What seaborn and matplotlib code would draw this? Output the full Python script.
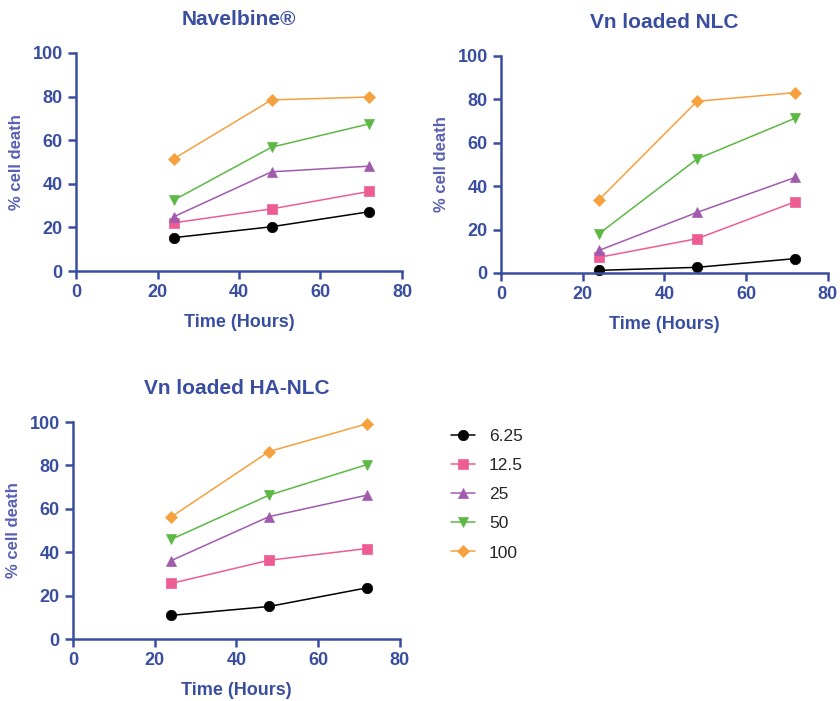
import matplotlib
matplotlib.use("Agg")
import matplotlib.pyplot as plt
import seaborn as sns
import pandas as pd

sns.set_theme(style="ticks")
plt.rcParams['font.family'] = ['Liberation Sans', 'DejaVu Sans']

hours = [24, 48, 72]
concentrations = ["6.25", "12.5", "25", "50", "100"]

navelbine = {
    "6.25": [15.3, 20.3, 27.2],
    "12.5": [22.1, 28.5, 36.5],
    "25":   [24.9, 45.5, 48.1],
    "50":   [32.5, 56.8, 67.5],
    "100":  [51.5, 78.5, 79.8],
}
vn_nlc = {
    "6.25": [1.2, 2.6, 6.6],
    "12.5": [7.2, 15.8, 32.8],
    "25":   [10.4, 27.9, 44.0],
    "50":   [18.1, 52.5, 71.3],
    "100":  [33.7, 79.1, 83.1],
}
vn_ha_nlc = {
    "6.25": [10.9, 15.0, 23.6],
    "12.5": [25.6, 36.3, 41.7],
    "25":   [36.1, 56.4, 66.3],
    "50":   [45.9, 66.3, 80.4],
    "100":  [56.2, 86.4, 99.2],
}
titles = ["Navelbine®", "Vn loaded NLC", "Vn loaded HA-NLC"]
datasets = [navelbine, vn_nlc, vn_ha_nlc]

colors = {"6.25": "#000000", "12.5": "#EE5C94", "25": "#A05BAE",
          "50": "#5DB845", "100": "#F7A03E"}
markers = {"6.25": "o", "12.5": "s", "25": "^", "50": "v", "100": "D"}
msizes = {"6.25": 7.5, "12.5": 7.5, "25": 7.5, "50": 7.5, "100": 6}

AX = "#3A4EA0"
LAB = "#5A60B2"

fig = plt.figure(figsize=(8.4, 7.01), dpi=100)
rects = [
    [0.0905, 0.6134, 0.388, 0.311],
    [0.5964, 0.6106, 0.389, 0.3096],
    [0.0869, 0.0884, 0.389, 0.3096],
]

def to_df(d):
    rows = []
    for c in concentrations:
        for h, v in zip(hours, d[c]):
            rows.append({"Time": h, "Death": v, "Conc": c})
    return pd.DataFrame(rows)

handles = None
for rect, title, data in zip(rects, titles, datasets):
    ax = fig.add_axes(rect)
    df = to_df(data)
    for c in concentrations:
        sub = df[df["Conc"] == c]
        sns.lineplot(data=sub, x="Time", y="Death", ax=ax, color=colors[c],
                     marker=markers[c], markersize=msizes[c],
                     markeredgecolor=colors[c], markeredgewidth=0.5,
                     linewidth=1.1, label=c, legend=False, clip_on=False)
    ax.set_xlim(0, 80)
    ax.set_ylim(0, 100)
    ax.set_xticks([0, 20, 40, 60, 80])
    ax.set_yticks([0, 20, 40, 60, 80, 100])
    for s in ["top", "right"]:
        ax.spines[s].set_visible(False)
    for s in ["left", "bottom"]:
        ax.spines[s].set_color(AX)
        ax.spines[s].set_linewidth(1.8)
    ax.tick_params(colors=AX, width=1.8, length=6, direction="out", labelsize=13)
    for lab in ax.get_xticklabels() + ax.get_yticklabels():
        lab.set_fontweight("bold")
        lab.set_color(AX)
    ax.set_xlabel("Time (Hours)", fontsize=13, fontweight="bold", color=AX, labelpad=9)
    ax.set_ylabel("% cell death", fontsize=12, fontweight="bold", color=LAB, labelpad=6)
    ax.set_title(title, fontsize=15, fontweight="bold", color=AX, pad=20)
    handles = ax.get_legend_handles_labels()

h, l = handles
fig.legend(h, l, loc="upper left", bbox_to_anchor=(0.518, 0.41), frameon=False,
           fontsize=12.5, handlelength=1.4, labelspacing=0.8, handletextpad=0.8)

fig.savefig("out.png", dpi=100)
